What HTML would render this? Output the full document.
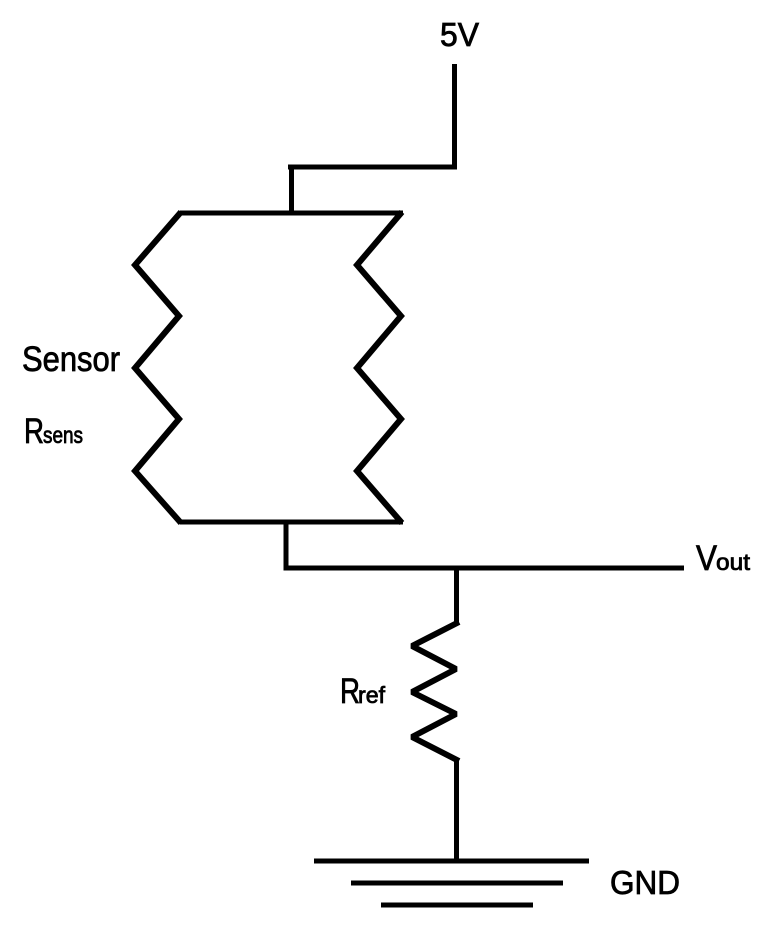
<!DOCTYPE html>
<html>
<head>
<meta charset="utf-8">
<style>
html,body{margin:0;padding:0;background:#fff;width:779px;height:935px;overflow:hidden}
svg{display:block}
text{font-family:"Liberation Sans",sans-serif;fill:#000;stroke:#000;stroke-width:.8px}
</style>
</head>
<body>
<svg width="779" height="935" viewBox="0 0 779 935" xmlns="http://www.w3.org/2000/svg">
<g fill="none" stroke="#000" stroke-width="5" stroke-linecap="butt" stroke-linejoin="miter" stroke-miterlimit="4">
<path d="M454.5 64V167H288"/>
<path d="M291.5 167V213"/>
<path d="M286 522V568H684"/>
<path d="M456.5 568V624M456.5 759V860"/>
<path d="M314 861H589M351 883H563M381 905H533"/>
<path d="M180 213H403M180 522H403"/>
</g>
<g fill="none" stroke="#000" stroke-width="6" stroke-linecap="butt" stroke-linejoin="miter" stroke-miterlimit="1.6">
<path d="M181 212L135 265L179 316L135 368L179 419L135 471L181 523"/>
<path d="M402 212L357 265L401 316L357 368L401 419L357 471L402 523"/>
<path d="M459 622L412 646L456 669L412 692L456 714L412 737L459 761"/>
</g>
<text x="440" y="46" font-size="33" textLength="39" lengthAdjust="spacingAndGlyphs">5V</text>
<text x="22" y="371" font-size="35" textLength="98" lengthAdjust="spacingAndGlyphs">Sensor</text>
<text x="24" y="443" font-size="35" textLength="20" lengthAdjust="spacingAndGlyphs">R</text>
<text x="43" y="443" font-size="23" textLength="40" lengthAdjust="spacingAndGlyphs">sens</text>
<text x="696" y="570" font-size="35" textLength="21" lengthAdjust="spacingAndGlyphs">V</text>
<text x="716" y="570" font-size="23" textLength="34" lengthAdjust="spacingAndGlyphs">out</text>
<text x="340" y="703" font-size="35" textLength="20" lengthAdjust="spacingAndGlyphs">R</text>
<text x="358" y="703" font-size="23" textLength="27" lengthAdjust="spacingAndGlyphs">ref</text>
<text x="610" y="894" font-size="33" textLength="70" lengthAdjust="spacingAndGlyphs">GND</text>
</svg>
</body>
</html>
